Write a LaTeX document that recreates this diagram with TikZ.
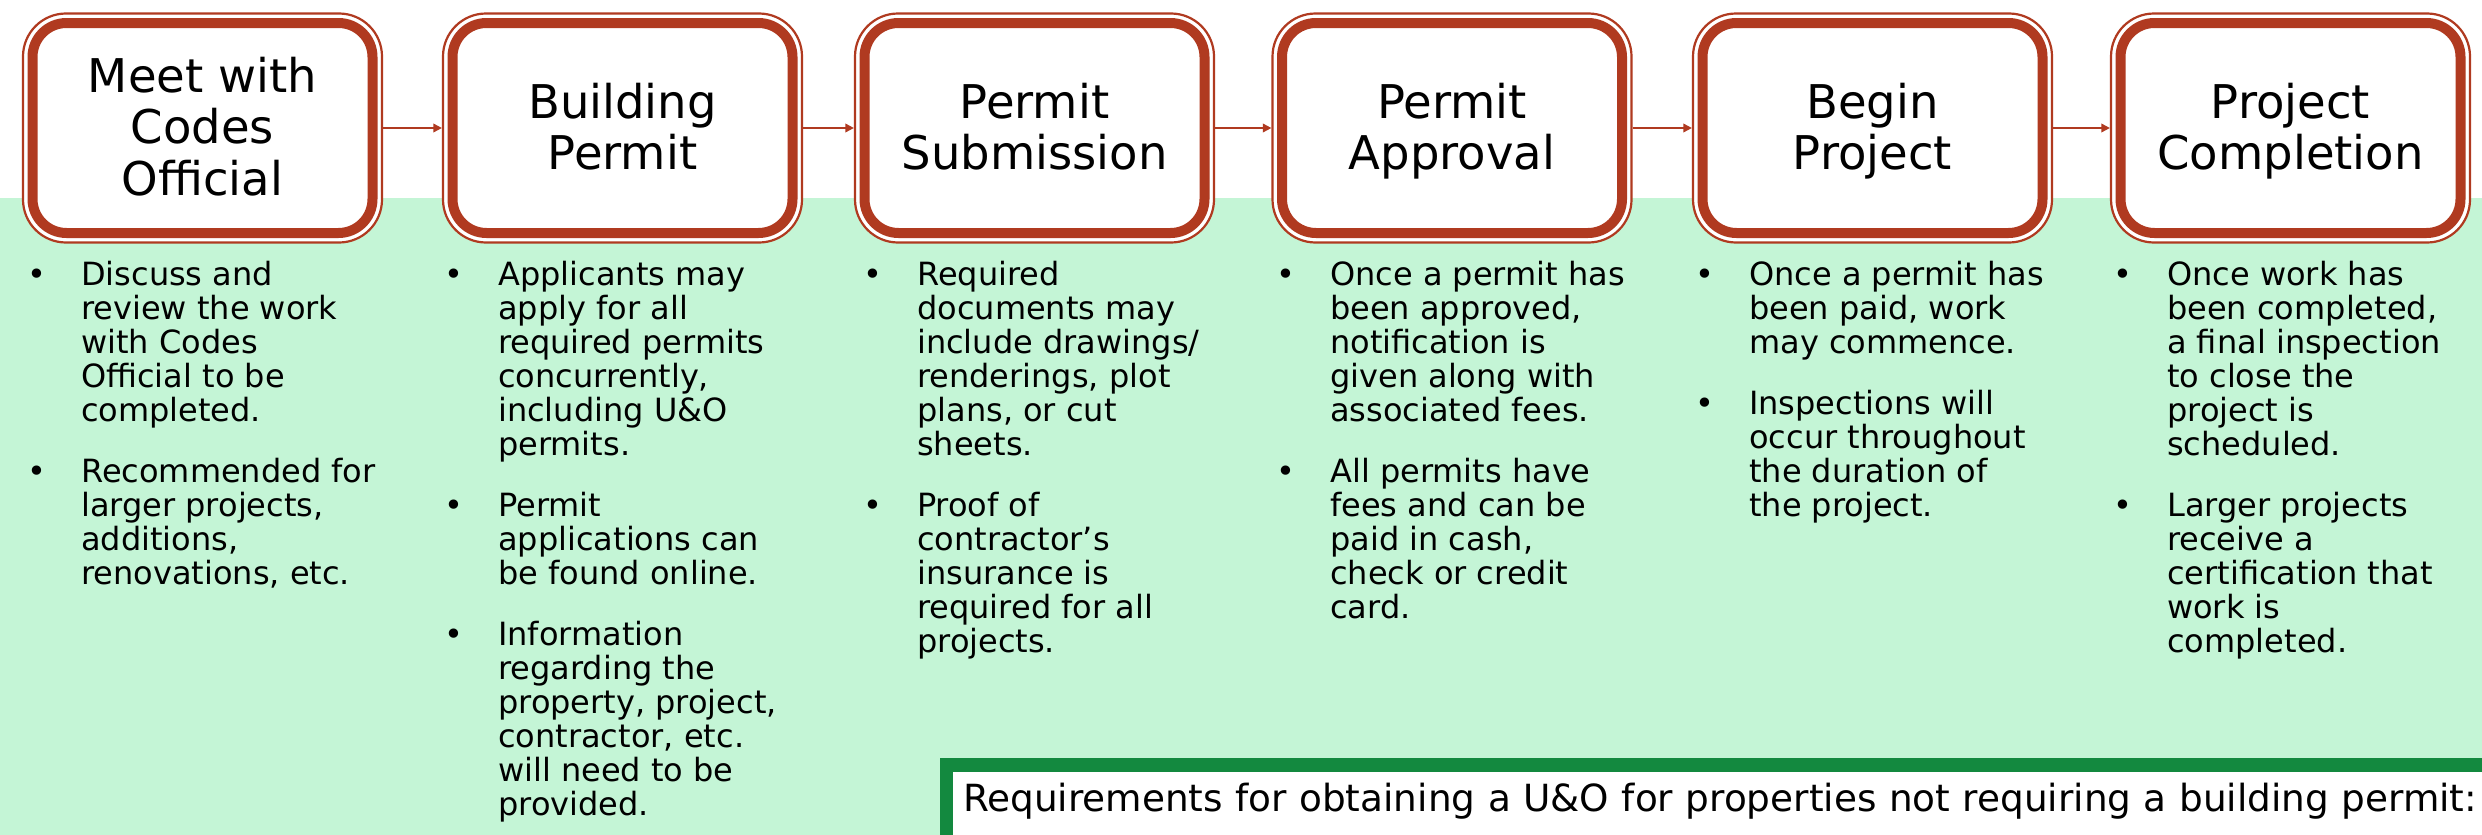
\documentclass[tikz,border=0pt]{standalone}
\usepackage{fontspec}
\setmainfont{DejaVu Sans}
\usetikzlibrary{arrows.meta}
\definecolor{rust}{RGB}{176,58,32}
\definecolor{mint}{RGB}{196,245,214}
\definecolor{leaf}{RGB}{19,137,63}
\pgfdeclarelayer{bg}
\pgfsetlayers{bg,main}
\newcommand\tophold{\rule{0pt}{45pt}}
\newcommand\bothold{\rule[-13.5pt]{0pt}{13.5pt}}
\newcommand\bul{\leavevmode\llap{\makebox[88pt]{•}}}
\begin{document}
\begin{tikzpicture}[x=1pt,y=-1pt,
  stepbox/.style={draw=rust, line width=10pt, rounded corners=34pt, fill=white,
    minimum width=340pt, minimum height=210pt, inner sep=0pt, outer sep=0pt,
    align=center, font=\fontsize{46.5}{51.5}\selectfont},
  outline/.style={draw=rust, line width=2.2pt, rounded corners=43pt, fill=white},
  flow/.style={draw=rust, line width=1.8pt, -{Triangle[length=8.5pt,width=8.5pt]}},
  bullets/.style={anchor=base west, inner sep=0pt, font=\fontsize{32}{34}\selectfont},
  ubox/.style={draw=leaf, line width=13.5pt, fill=white, anchor=north west, outer sep=0pt,
    inner xsep=16.5pt, inner ysep=8.5pt, text height=37.5pt, text depth=60pt,
    text width=1560pt, align=left, font=\fontsize{37.4}{44}\selectfont}
]
\useasboundingbox (0,0) rectangle (2482,835);

% step boxes
\node[stepbox] (b1) at (202.5,128) {\tophold Meet with\\Codes\\Official\bothold};
\node[stepbox] (b2) at (622.5,128) {\tophold Building\\Permit\bothold};
\node[stepbox] (b3) at (1034.5,128) {\tophold Permit\\Submission\bothold};
\node[stepbox] (b4) at (1452,128) {\tophold Permit\\Approval\bothold};
\node[stepbox] (b5) at (1872.5,128) {\tophold Begin\\Project\bothold};
\node[stepbox] (b6) at (2290.5,128) {\tophold Project\\Completion\bothold};

% connectors
\foreach \a/\b in {b1/b2,b2/b3,b3/b4,b4/b5,b5/b6}
  \draw[flow] ([xshift=10.6pt]\a.east) -- ([xshift=-10.6pt]\b.west);

% background and outer thin outlines
\begin{pgfonlayer}{bg}
  \fill[white] (0,0) rectangle (2482,835);
  \fill[mint] (0,198) rectangle (2482,835);
  \foreach \n in {b1,b2,b3,b4,b5,b6}
    \draw[outline] ([shift={(-9.5pt,9.5pt)}]\n.north west) rectangle ([shift={(9.5pt,-9.5pt)}]\n.south east);
\end{pgfonlayer}

% bullet texts
\node[bullets] (t1) at (81,285) {\parbox[t]{330pt}{\raggedright
\bul Discuss and\\review the work\\with Codes\\Official to be\\completed.\par\vspace{27pt}
\bul Recommended for\\larger projects,\\additions,\\renovations, etc.}};
\node[bullets] (t2) at (498,285) {\parbox[t]{330pt}{\raggedright
\bul Applicants may\\apply for all\\required permits\\concurrently,\\including U\&O\\permits.\par\vspace{27pt}
\bul Permit\\applications can\\be found online.\par\vspace{27pt}
\bul Information\\regarding the\\property, project,\\contractor, etc.\\will need to be\\provided.}};
\node[bullets] (t3) at (917,285) {\parbox[t]{330pt}{\raggedright
\bul Required\\documents may\\include drawings/\\renderings, plot\\plans, or cut\\sheets.\par\vspace{27pt}
\bul Proof of\\contractor’s\\insurance is\\required for all\\projects.}};
\node[bullets] (t4) at (1330,285) {\parbox[t]{330pt}{\raggedright
\bul Once a permit has\\been approved,\\notification is\\given along with\\associated fees.\par\vspace{27pt}
\bul All permits have\\fees and can be\\paid in cash,\\check or credit\\card.}};
\node[bullets] (t5) at (1749,285) {\parbox[t]{330pt}{\raggedright
\bul Once a permit has\\been paid, work\\may commence.\par\vspace{27pt}
\bul Inspections will\\occur throughout\\the duration of\\the project.}};
\node[bullets] (t6) at (2167,285) {\parbox[t]{330pt}{\raggedright
\bul Once work has\\been completed,\\a final inspection\\to close the\\project is\\scheduled.\par\vspace{27pt}
\bul Larger projects\\receive a\\certification that\\work is\\completed.}};

% U&O box
\node[ubox] (u) at (946.5,765) {Requirements for obtaining a U\&O for properties not requiring a building permit:};
\end{tikzpicture}
\end{document}
